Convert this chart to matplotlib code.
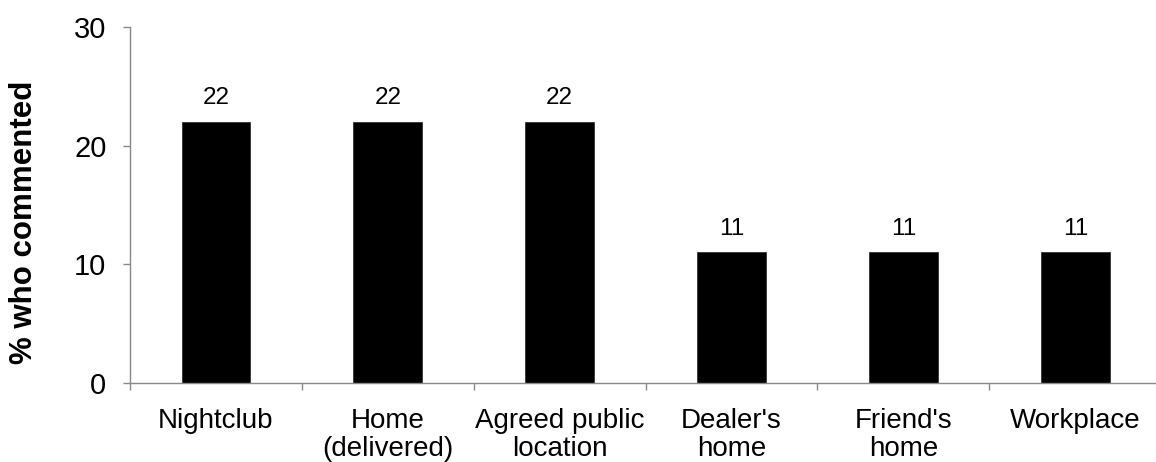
import matplotlib.pyplot as plt
import numpy as np

plt.rcParams['font.family'] = ['Liberation Sans', 'DejaVu Sans']

places = ["Nightclub", "Home\n(delivered)", "Agreed public\nlocation",
          "Dealer's\nhome", "Friend's\nhome", "Workplace"]
pct = [22, 22, 22, 11, 11, 11]
yticks = [0, 10, 20, 30]

axis_grey = '#898989'

fig = plt.figure(figsize=(11.56, 4.62), dpi=100)
ax = fig.add_axes([0.1125, 0.171, 0.892, 0.7706])

x = np.arange(len(places))
bars = ax.bar(x, pct, width=0.4, color='black', edgecolor='#333333', linewidth=0.6)

for b, v in zip(bars, pct):
    ax.annotate(str(v), (b.get_x() + b.get_width() / 2, v), xytext=(0, 9),
                textcoords='offset points', ha='center', va='bottom', fontsize=17.5)

ax.set_xlim(-0.5, len(places) - 0.5)
ax.set_ylim(0, 30)
ax.set_yticks(yticks)
ax.set_xticks(x)
ax.set_xticklabels(places, fontsize=20, linespacing=1.1)
ax.set_xticks(np.arange(len(places) + 1) - 0.5, minor=True)

ax.tick_params(axis='y', labelsize=21, length=5, width=1, color=axis_grey,
               direction='out', pad=12)
ax.tick_params(axis='x', which='major', length=0, pad=18)
ax.tick_params(axis='x', which='minor', length=5, width=1, color=axis_grey,
               direction='out')

for s in ['top', 'right']:
    ax.spines[s].set_visible(False)
for s in ['left', 'bottom']:
    ax.spines[s].set_color(axis_grey)
    ax.spines[s].set_linewidth(1)

ax.set_ylabel("% who commented", fontsize=22.5, fontweight='bold')
ax.yaxis.set_label_coords(-0.088, 0.452)

fig.savefig('out.png', dpi=100)
